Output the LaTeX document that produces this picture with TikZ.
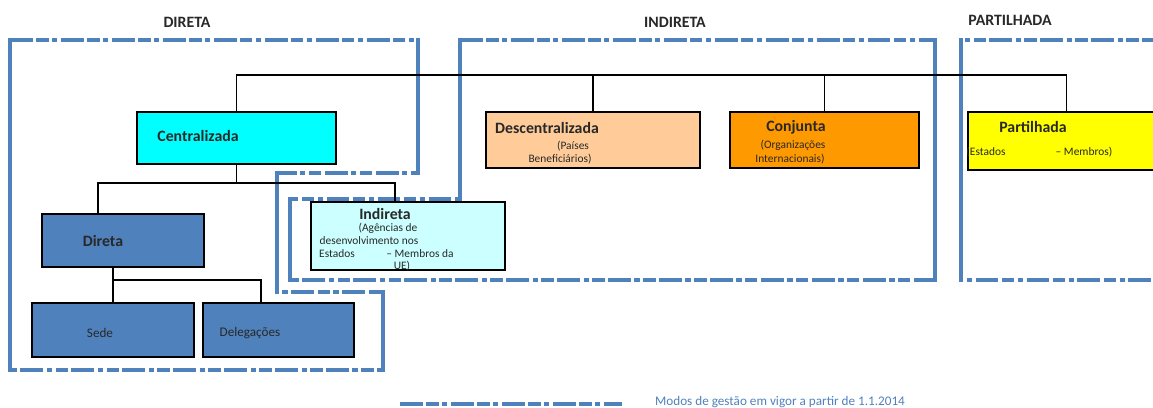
\documentclass[tikz,border=0pt]{standalone}
\usepackage{fontspec}
\setmainfont{Carlito}
\usetikzlibrary{positioning}
\definecolor{zoneblue}{RGB}{79,129,189}
\definecolor{centcyan}{RGB}{0,255,255}
\definecolor{descpeach}{RGB}{255,204,153}
\definecolor{conjorange}{RGB}{255,153,0}
\definecolor{partyellow}{RGB}{255,255,0}
\definecolor{dirblue}{RGB}{79,129,189}
\definecolor{indcyan}{RGB}{204,255,255}
\definecolor{inktext}{RGB}{40,40,40}

\begin{document}
\begin{tikzpicture}[x=0.02cm, y=-0.02cm]
    \tikzset{box/.style = {draw, line width=0.8pt, inner sep=0pt}}
    \tikzset{link/.style = {line width=0.7pt}}
    \tikzset{zone/.style = {zoneblue, line width=2.3pt, line cap=rect}}
    \tikzset{zonedash/.style = {zoneblue, line width=2.3pt, dash pattern=on 13pt off 2pt on 7pt off 2pt on 3pt off 2pt}}
    \tikzset{head/.style = {font=\bfseries\fontsize{9}{10}\selectfont, text=inktext, inner sep=0pt}}
    \tikzset{title/.style = {font=\bfseries\fontsize{9}{10}\selectfont, text=inktext, inner sep=0pt}}
    \tikzset{sub/.style = {font=\fontsize{6.5}{7}\selectfont, text=inktext, inner sep=0pt}}
    \tikzset{leaf/.style = {font=\fontsize{7.5}{8}\selectfont, text=inktext, inner sep=0pt}}

    \useasboundingbox (0,0) rectangle (1153,407);

    % headers
    \node[head] (hdir) at (187,22) {DIRETA};
    \node[head] (hind) at (675,22) {INDIRETA};
    \node[head] (hpart) at (1010,20) {PARTILHADA};

    % boxes
    \node[box, fill=centcyan, minimum width=3.98cm, minimum height=1.04cm] (cent) at (236.5,138) {};
    \node[box, fill=descpeach, minimum width=4.28cm, minimum height=1.12cm] (desc) at (593,140) {};
    \node[box, fill=conjorange, minimum width=3.78cm, minimum height=1.12cm] (conj) at (824.5,140) {};
    \node[box, fill=partyellow, minimum width=3.94cm, minimum height=1.16cm] (part) at (1066.5,141) {};
    \node[box, fill=dirblue, minimum width=3.24cm, minimum height=1.06cm] (dir) at (123,240.5) {};
    \node[box, fill=indcyan, minimum width=3.88cm, minimum height=1.36cm] (ind) at (408,236) {};
    \node[box, fill=dirblue, minimum width=3.24cm, minimum height=1.08cm] (sede) at (113,330) {};
    \node[box, fill=dirblue, minimum width=3.02cm, minimum height=1.08cm] (deleg) at (278.5,330) {};

    % zones
    \draw[zonedash] (10,40) -- (418,40) -- (418,173) -- (277,173) -- (277,292) -- (383,292) -- (383,370) -- (10,370) -- cycle;
    \draw[zone] (10,40) -- (10,370) (418,40) -- (418,173) (277,173) -- (277,292) (383,292) -- (383,370);
    \draw[zonedash] (460,40) -- (935,40) -- (935,280) -- (290,280) -- (290,199) -- (460,199) -- cycle;
    \draw[zone] (460,40) -- (460,199) (290,199) -- (290,280);
    \draw[zone, line width=1.8pt] (935,40) -- (935,280);
    \draw[zonedash] (1165,40) -- (961,40) -- (961,280) -- (1165,280);
    \draw[zone, line width=2.8pt] (961,40) -- (961,280);

    % tree
    \coordinate (bus) at (0,75);
    \coordinate (bar1) at (0,183);
    \coordinate (bar2) at (0,280);
    \coordinate (dirtop) at ([xshift=-0.5cm]dir.north);
    \coordinate (indtop) at ([xshift=-0.26cm]ind.north);
    \coordinate (delegtop) at ([xshift=-0.35cm]deleg.north);
    \draw[link] (cent.north) |- (bus -| part.north) -- (part.north);
    \draw[link] (desc.north) -- (desc.north |- bus);
    \draw[link] (conj.north) -- (conj.north |- bus);
    \draw[link] (cent.south) -- (cent.south |- bar1);
    \draw[link] (dirtop) |- (cent.south |- bar1) -| (indtop);
    \draw[link] (dir.south -| sede.north) -- (sede.north);
    \draw[link] (sede.north |- bar2) -| (delegtop);

    % texts
    \node[title] (cent-t) at (198,136) {Centralizada};
    \node[title] (desc-t) at (547,128) {Descentralizada};
    \node[sub] (desc-t1) at (573,146) {(Países};
    \node[sub] (desc-t2) at (560,159) {Beneficiários)};
    \node[title] (conj-t) at (796,127) {Conjunta};
    \node[sub] (conj-t1) at (793,145) {(Organizações};
    \node[sub] (conj-t2) at (790,159) {Internacionais)};
    \node[title] (part-t) at (1033,127) {Partilhada};
    \node[sub] (part-t1) at (986,152) {(Estados};
    \node[sub] (part-t2) at (1084,152) {– Membros)};
    \node[title] (dir-t) at (103,241) {Direta};
    \node[title] (ind-t) at (385,214) {Indireta};
    \node[sub] (ind-t1) at (388,228) {(Agências de};
    \node[sub] (ind-t2) at (369,241) {desenvolvimento nos};
    \node[sub] (ind-t3) at (337,254) {Estados};
    \node[sub] (ind-t4) at (420,254) {– Membros da};
    \node[sub] (ind-t5) at (402,266) {UE)};
    \node[leaf] (sede-t) at (100,333) {Sede};
    \node[leaf] (deleg-t) at (250,333) {Delegações};

    % legend
    \draw[zonedash, line width=2pt] (400,404) -- (622,404);
    \node[font=\fontsize{7.5}{8}\selectfont, text=zoneblue, inner sep=0pt] (legend) at (780,402) {Modos de gestão em vigor a partir de 1.1.2014};
\end{tikzpicture}
\end{document}
